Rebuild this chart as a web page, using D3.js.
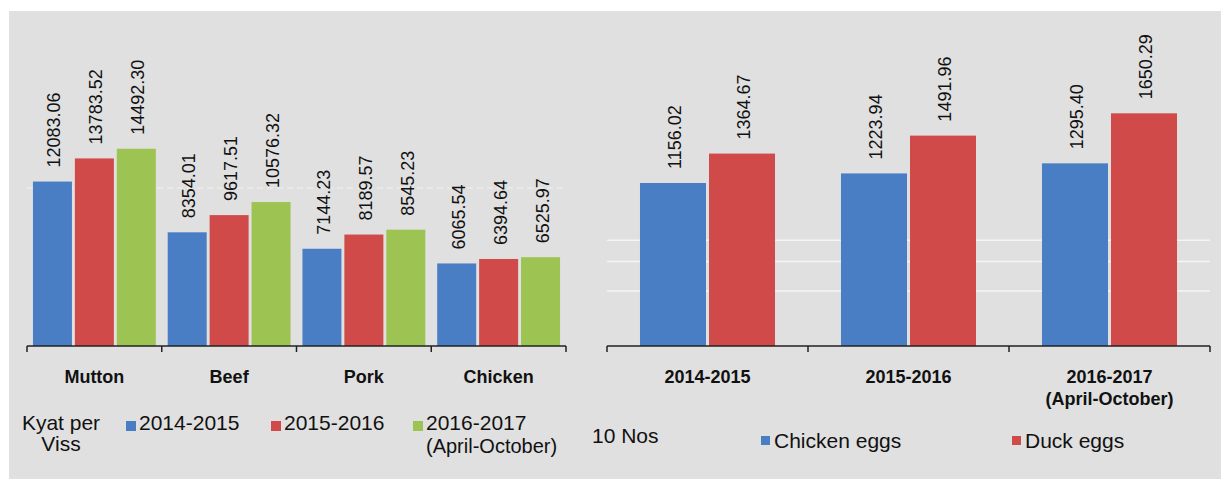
<!DOCTYPE html>
<html>
<head>
<meta charset="utf-8">
<script src="https://cdn.jsdelivr.net/npm/d3@7/dist/d3.min.js"></script>
<style>
  html, body { margin: 0; padding: 0; background: #ffffff; }
  svg { display: block; font-family: "Liberation Sans", Arial, sans-serif; }
</style>
</head>
<body>
<svg id="chart" width="1221" height="479"></svg>
<script>
// ---- Data ----
const meatCategories = ["Mutton", "Beef", "Pork", "Chicken"];
const meatSeries = ["2014-2015", "2015-2016", "2016-2017"];
const meat2014 = [12083.06, 8354.01, 7144.23, 6065.54];
const meat2015 = [13783.52, 9617.51, 8189.57, 6394.64];
const meat2016 = [14492.30, 10576.32, 8545.23, 6525.97];
const meatLegendLabels = [["2014-2015"], ["2015-2016"], ["2016-2017", "(April-October)"]];
const meatUnit = ["Kyat per", "Viss"];

const eggCategories = [["2014-2015"], ["2015-2016"], ["2016-2017", "(April-October)"]];
const eggSeries = ["Chicken eggs", "Duck eggs"];
const chickenEggs = [1156.02, 1223.94, 1295.40];
const duckEggs = [1364.67, 1491.96, 1650.29];
const eggUnit = "10 Nos";

const meatGrid = [11600];
const eggGrid = [750, 600, 390];

const meatColors = ["#4a7ec4", "#d04a4a", "#9dc352"];
const eggColors = ["#4a7ec4", "#d04a4a"];

// ---- Setup ----
const svg = d3.select("#chart");
svg.append("rect").attr("x", 9).attr("y", 11).attr("width", 1212).attr("height", 468).attr("fill", "#e0e0e0");

const baseY = 346;
const fmt = d3.format(".2f");

// ---- Left chart (meat) ----
const meatData = meatCategories.map((c, i) => ({ cat: c, vals: [meat2014[i], meat2015[i], meat2016[i]] }));
const x0L = d3.scaleBand().domain(meatCategories).range([27, 566]).paddingInner(0).paddingOuter(0);
const x1L = d3.scaleBand().domain(meatSeries).range([0, x0L.bandwidth()]).paddingInner(0.07).paddingOuter(0.142);
const yL = d3.scaleLinear().domain([0, 16000]).range([baseY, baseY - 16000 * 0.01361]);

const gL = svg.append("g");
gL.selectAll("line.grid").data(meatGrid).join("line")
  .attr("x1", 27).attr("x2", 566).attr("y1", d => yL(d)).attr("y2", d => yL(d))
  .attr("stroke", "#ececec").attr("stroke-width", 1.5).attr("stroke-dasharray", "6,4");

const groupsL = gL.selectAll("g.cat").data(meatData).join("g")
  .attr("transform", d => `translate(${x0L(d.cat)},0)`);
groupsL.selectAll("rect").data(d => d.vals.map((v, j) => ({ s: meatSeries[j], v, j }))).join("rect")
  .attr("x", d => x1L(d.s)).attr("width", x1L.bandwidth())
  .attr("y", d => yL(d.v)).attr("height", d => baseY - yL(d.v))
  .attr("fill", d => meatColors[d.j]);
groupsL.selectAll("text").data(d => d.vals.map((v, j) => ({ s: meatSeries[j], v, j }))).join("text")
  .attr("transform", d => `translate(${x1L(d.s) + x1L.bandwidth() / 2 + 2},${yL(d.v) - 14}) rotate(-90)`)
  .attr("dominant-baseline", "central")
  .attr("font-size", 18).attr("fill", "#111")
  .text(d => fmt(d.v));

// axis
const axL = gL.append("g").attr("transform", `translate(0,${baseY})`)
  .call(d3.axisBottom(x0L).tickSize(0).tickPadding(0).tickFormat(""));
axL.select(".domain").attr("stroke", "#222").attr("stroke-width", 1.5).attr("d", `M${x0L.range()[0]},0H${x0L.range()[1]}`);
const bL = meatCategories.map(c => x0L(c)).concat([x0L.range()[1]]);
gL.selectAll("line.tick").data(bL).join("line")
  .attr("x1", d => d).attr("x2", d => d).attr("y1", baseY).attr("y2", baseY + 6)
  .attr("stroke", "#222").attr("stroke-width", 1.5);
gL.selectAll("text.cat").data(meatCategories).join("text")
  .attr("x", d => x0L(d) + x0L.bandwidth() / 2).attr("y", 383)
  .attr("text-anchor", "middle").attr("font-size", 18).attr("font-weight", "bold").attr("fill", "#111")
  .text(d => d);

// legend (left)
const lgL = svg.append("g").attr("font-size", 21).attr("fill", "#111");
lgL.selectAll("text.unit").data(meatUnit).join("text")
  .attr("x", 61).attr("y", (d, i) => 430 + i * 21).attr("text-anchor", "middle").text(d => d);
const swL = [126, 271, 413];
meatLegendLabels.forEach((lines, i) => {
  lgL.append("rect").attr("x", swL[i]).attr("y", 421).attr("width", 10).attr("height", 10).attr("fill", meatColors[i]);
  lines.forEach((t, k) => {
    lgL.append("text").attr("x", swL[i] + 13).attr("y", 430 + k * 23)
      .attr("font-size", k === 0 ? 21 : 20).text(t);
  });
});

// ---- Right chart (eggs) ----
const eggKeys = eggCategories.map(l => l.join(" "));
const eggData = eggKeys.map((k, i) => ({ cat: k, lines: eggCategories[i], vals: [chickenEggs[i], duckEggs[i]] }));
const x0R = d3.scaleBand().domain(eggKeys).range([607, 1210]).paddingInner(0).paddingOuter(0);
const x1R = d3.scaleBand().domain(eggSeries).range([0, x0R.bandwidth()]).paddingInner(0.0435).paddingOuter(0.478);
const yR = d3.scaleLinear().domain([0, 1800]).range([baseY, baseY - 1800 * 0.1410]);

const gR = svg.append("g");
gR.selectAll("line.grid").data(eggGrid).join("line")
  .attr("x1", 607).attr("x2", 1210).attr("y1", d => yR(d)).attr("y2", d => yR(d))
  .attr("stroke", "#f4f4f4").attr("stroke-width", 1.5);

const groupsR = gR.selectAll("g.cat").data(eggData).join("g")
  .attr("transform", d => `translate(${x0R(d.cat)},0)`);
groupsR.selectAll("rect").data(d => d.vals.map((v, j) => ({ s: eggSeries[j], v, j }))).join("rect")
  .attr("x", d => x1R(d.s)).attr("width", x1R.bandwidth())
  .attr("y", d => yR(d.v)).attr("height", d => baseY - yR(d.v))
  .attr("fill", d => eggColors[d.j]);
groupsR.selectAll("text").data(d => d.vals.map((v, j) => ({ s: eggSeries[j], v, j }))).join("text")
  .attr("transform", d => `translate(${x1R(d.s) + x1R.bandwidth() / 2 + 2},${yR(d.v) - 14}) rotate(-90)`)
  .attr("dominant-baseline", "central")
  .attr("font-size", 18).attr("fill", "#111")
  .text(d => fmt(d.v));

const axR = gR.append("g").attr("transform", `translate(0,${baseY})`)
  .call(d3.axisBottom(x0R).tickSize(0).tickPadding(0).tickFormat(""));
axR.select(".domain").attr("stroke", "#222").attr("stroke-width", 1.5).attr("d", `M${x0R.range()[0]},0H${x0R.range()[1]}`);
const bR = eggKeys.map(c => x0R(c)).concat([x0R.range()[1]]);
gR.selectAll("line.tick").data(bR).join("line")
  .attr("x1", d => d).attr("x2", d => d).attr("y1", baseY).attr("y2", baseY + 6)
  .attr("stroke", "#222").attr("stroke-width", 1.5);
eggData.forEach(d => {
  d.lines.forEach((t, k) => {
    gR.append("text").attr("x", x0R(d.cat) + x0R.bandwidth() / 2).attr("y", 383 + k * 22)
      .attr("text-anchor", "middle").attr("font-size", 18).attr("font-weight", "bold").attr("fill", "#111")
      .text(t);
  });
});

// legend (right)
const lgR = svg.append("g").attr("font-size", 21).attr("fill", "#111");
lgR.append("text").attr("x", 592).attr("y", 443).text(eggUnit);
const swR = [761, 1012];
eggSeries.forEach((s, i) => {
  lgR.append("rect").attr("x", swR[i]).attr("y", 436).attr("width", 9).attr("height", 9).attr("fill", eggColors[i]);
  lgR.append("text").attr("x", swR[i] + 13).attr("y", 448).text(s);
});
</script>
</body>
</html>
